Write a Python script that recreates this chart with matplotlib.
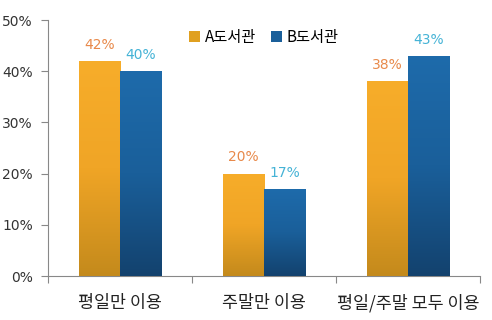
import numpy as np
import matplotlib
matplotlib.use('Agg')
import matplotlib.pyplot as plt
from matplotlib.colors import LinearSegmentedColormap
from matplotlib.patches import Patch

plt.rcParams['font.family'] = ['Noto Sans CJK KR', 'DejaVu Sans']

# data
categories = ['평일만 이용', '주말만 이용', '평일/주말 모두 이용']
series_names = ['A도서관', 'B도서관']
a_values = [42, 20, 38]
b_values = [40, 17, 43]
y_ticks = [0, 10, 20, 30, 40, 50]

fig = plt.figure(figsize=(4.92, 3.2), dpi=100)
ax = fig.add_axes([0.0976, 0.1375, 0.878, 0.8])

x = np.arange(len(categories))
w = 0.285

cmap_a = LinearSegmentedColormap.from_list('a', ['#c48a1c', '#f0a526', '#f7ad2a'])
cmap_b = LinearSegmentedColormap.from_list('b', ['#13426e', '#1a5f9a', '#1e6bab'])
grad = np.linspace(0, 1, 256).reshape(-1, 1)

bars_a = ax.bar(x - w / 2, a_values, w, color='#e69f24', zorder=2)
bars_b = ax.bar(x + w / 2, b_values, w, color='#1a5f9a', zorder=2)

# vertical gradient fill clipped to each bar
for bars, cmap in [(bars_a, cmap_a), (bars_b, cmap_b)]:
    for bar in bars:
        x0, y0 = bar.get_x(), bar.get_y()
        x1, y1 = x0 + bar.get_width(), y0 + bar.get_height()
        im = ax.imshow(grad, cmap=cmap, origin='lower', aspect='auto',
                       extent=[x0, x1, y0, y1], zorder=3)
        im.set_clip_path(bar)

for xi, v in zip(x, a_values):
    ax.text(xi - w / 2, v + 1.8, f'{v}%', ha='center', va='bottom',
            fontsize=10, color='#e8894a', family='DejaVu Sans')
for xi, v in zip(x, b_values):
    ax.text(xi + w / 2, v + 1.8, f'{v}%', ha='center', va='bottom',
            fontsize=10, color='#45b3d6', family='DejaVu Sans')

ax.set_xlim(-0.5, 2.5)
ax.set_ylim(0, 50)
ax.set_yticks(y_ticks)
ax.set_yticklabels([f'{t}%' for t in y_ticks], fontsize=10, color='#333333',
                   family='DejaVu Sans')
ax.set_xticks([-0.5, 0.5, 1.5, 2.5])
ax.set_xticklabels([])
ax.set_xticks(x, minor=True)
ax.set_xticklabels(categories, minor=True, fontsize=12.5, color='#222222')
ax.tick_params(axis='x', which='major', direction='out', length=5, color='#888888')
ax.tick_params(axis='x', which='minor', length=0, pad=13)
ax.tick_params(axis='y', direction='out', length=5, color='#888888', pad=6)

for s in ['top', 'right']:
    ax.spines[s].set_visible(False)
for s in ['left', 'bottom']:
    ax.spines[s].set_color('#888888')

handles = [Patch(facecolor='#e0a020', edgecolor='none'),
           Patch(facecolor='#1a5f9a', edgecolor='none')]
ax.legend(handles, series_names, loc='upper center', bbox_to_anchor=(0.5, 1.0),
          ncol=2, frameon=False, fontsize=11, handlelength=0.7, handleheight=0.7,
          handletextpad=0.3, columnspacing=1.0, borderaxespad=0.2)

fig.savefig('out.png', dpi=100)
